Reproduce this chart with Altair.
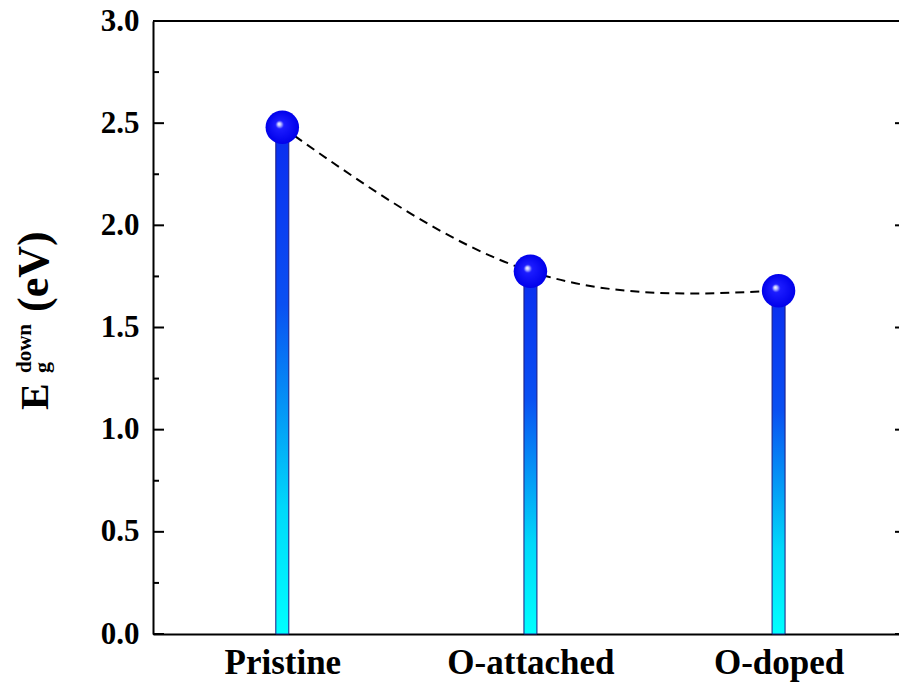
import altair as alt
import pandas as pd

# ---- data ----
categories = ["Pristine", "O-attached", "O-doped"]
values = [2.48, 1.775, 1.68]
y_major = [0.0, 0.5, 1.0, 1.5, 2.0, 2.5, 3.0]
y_minor = [0.25, 0.75, 1.25, 1.75, 2.25, 2.75]

W, H = 746, 613
FONT = "Liberation Serif"

df = pd.DataFrame({"idx": list(range(len(categories))), "cat": categories, "val": values})
df_major = pd.DataFrame({"t": y_major})
df_minor = pd.DataFrame({"t": y_minor})
one = pd.DataFrame({"a": [0]})

parts = [f"datum.value == {i} ? '{c}'" for i, c in enumerate(categories[:-1])] + [f"'{categories[-1]}'"]
label_expr = " : ".join(parts)

step = 251.5
x0 = -126 / step
x1 = (W - 126) / step
xscale = alt.Scale(domain=[x0, x1], zero=False, nice=False)
yscale = alt.Scale(domain=[0, 3], zero=False, nice=False)

x_axis = alt.Axis(values=list(range(len(categories))), labelExpr=label_expr, ticks=False, tickSize=0,
                  domain=True, domainColor="black", domainWidth=2, grid=False, title=None,
                  labelFont=FONT, labelFontWeight="bold", labelFontSize=35, labelColor="black",
                  labelPadding=11)
y_axis = alt.Axis(values=y_major, format=".1f", ticks=False, tickSize=0,
                  domain=True, domainColor="black", domainWidth=2, grid=False, title=None,
                  labelFont=FONT, labelFontWeight="bold", labelFontSize=31, labelColor="black",
                  labelPadding=14)

stem_grad = alt.LinearGradient(
    gradient="linear",
    stops=[alt.GradientStop(offset=0, color="#0a2cf0"),
           alt.GradientStop(offset=0.35, color="#0a50f2"),
           alt.GradientStop(offset=0.75, color="#00d8fa"),
           alt.GradientStop(offset=1, color="#00ffff")],
    x1=0, x2=0, y1=0, y2=1)

ball_grad = alt.RadialGradient(
    gradient="radial",
    stops=[alt.GradientStop(offset=0, color="#ffffff"),
           alt.GradientStop(offset=0.1, color="#c0c4ff"),
           alt.GradientStop(offset=0.25, color="#1c1cff"),
           alt.GradientStop(offset=1, color="#0000ea")],
    x1=0.4, y1=0.4, r1=0, x2=0.5, y2=0.5, r2=0.5)

stems = alt.Chart(df).mark_bar(orient="vertical", size=13, fill=stem_grad, stroke="#1a1a80",
                               strokeWidth=1).encode(
    x=alt.X("idx:Q", scale=xscale, axis=x_axis),
    y=alt.Y("val:Q", scale=yscale, axis=y_axis, stack=None),
    y2=alt.datum(0),
)

line = alt.Chart(df).mark_line(interpolate="natural", strokeDash=[9, 6], color="black",
                               strokeWidth=2).encode(
    x=alt.X("idx:Q", scale=xscale),
    y=alt.Y("val:Q", scale=yscale),
)

balls = alt.Chart(df).mark_circle(size=1120, opacity=1, fill=ball_grad, strokeWidth=0).encode(
    x=alt.X("idx:Q", scale=xscale),
    y=alt.Y("val:Q", scale=yscale),
)

major_l = alt.Chart(df_major).mark_rule(color="black", strokeWidth=2).encode(
    y=alt.Y("t:Q", scale=yscale), x=alt.value(0), x2=alt.value(11))
minor_l = alt.Chart(df_minor).mark_rule(color="black", strokeWidth=2).encode(
    y=alt.Y("t:Q", scale=yscale), x=alt.value(0), x2=alt.value(6))
major_r = alt.Chart(df_major).mark_rule(color="black", strokeWidth=2).encode(
    y=alt.Y("t:Q", scale=yscale), x=alt.value(W - 4), x2=alt.value(W))
top_border = alt.Chart(one).mark_rule(color="black", strokeWidth=2).encode(
    x=alt.value(0), x2=alt.value(W), y=alt.value(0))

def title_piece(text, size, x, y):
    return alt.Chart(one).mark_text(text=text, angle=270, align="left", baseline="alphabetic",
                                    font=FONT, fontWeight="bold", fontSize=size,
                                    color="black").encode(x=alt.value(x), y=alt.value(y))

t_E = title_piece("E", 40, -105, 389)
t_down = title_piece("down", 21, -122, 352)
t_g = title_piece("g", 22, -104, 352)
t_eV = title_piece("(eV)", 44, -105, 291)

chart = alt.layer(stems, line, balls, major_l, minor_l, major_r, top_border,
                  t_E, t_down, t_g, t_eV).properties(
    width=W, height=H,
    autosize=alt.AutoSizeParams(type="none"),
    padding={"left": 153, "top": 21, "right": 0, "bottom": 49},
    background="white",
).configure_view(stroke=None)

chart.save("out.html", embed_options={"renderer": "svg", "actions": False})
